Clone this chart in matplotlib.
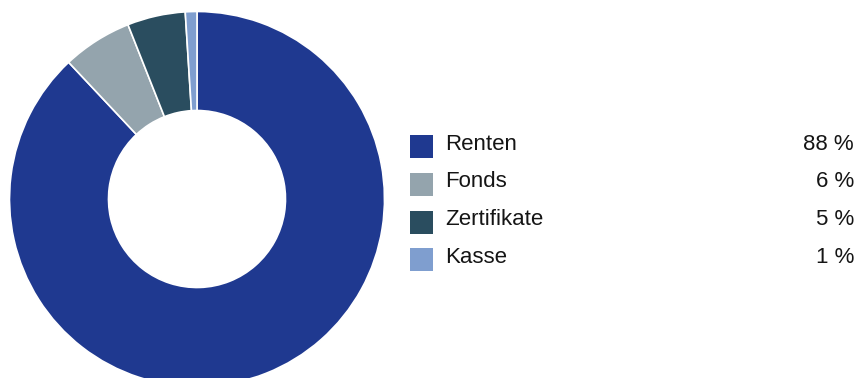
import matplotlib
matplotlib.use("Agg")
import matplotlib.pyplot as plt
from matplotlib.patches import Rectangle

categories = ["Renten", "Fonds", "Zertifikate", "Kasse"]
values = [88, 6, 5, 1]
labels = ["88 %", "6 %", "5 %", "1 %"]
colors = ["#1f3990", "#94a4ad", "#2a4d5f", "#7f9ecf"]

plt.rcParams['font.family'] = ['Liberation Sans', 'DejaVu Sans']

W, H = 856, 378
fig = plt.figure(figsize=(W/100, H/100), dpi=100)

cx, cy, r, rin = 197, 199, 187.5, 88.5
ax = fig.add_axes([(cx - r)/W, (H - cy - r)/H, 2*r/W, 2*r/H])
ax.pie(values, colors=colors, startangle=90, counterclock=False, radius=1,
       wedgeprops=dict(width=1 - rin/r, edgecolor="white", linewidth=1.2))
ax.set_xlim(-1, 1)
ax.set_ylim(-1, 1)
ax.set_aspect("equal")
ax.axis("off")

lax = fig.add_axes([0, 0, 1, 1])
lax.set_xlim(0, W)
lax.set_ylim(H, 0)
lax.axis("off")
y0, dy = 135, 37.8
for i, (c, lab, col) in enumerate(zip(categories, labels, colors)):
    y = y0 + i*dy
    lax.add_patch(Rectangle((410, y), 23, 23, facecolor=col, edgecolor="none"))
    lax.text(445, y + 14.5, c, fontsize=16, va="baseline", ha="left", color="#151515")
    lax.text(854, y + 14.5, lab, fontsize=16, va="baseline", ha="right", color="#151515")

fig.savefig("out.png", dpi=100)
